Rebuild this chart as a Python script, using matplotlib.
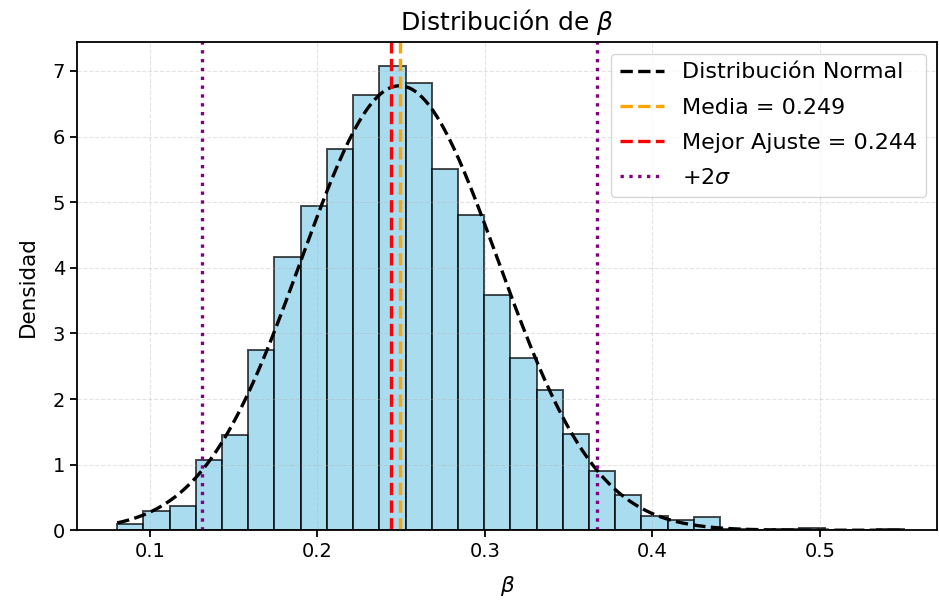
import matplotlib
matplotlib.use("Agg")
import matplotlib.pyplot as plt
import numpy as np

# densidad por bin del histograma (30 bins entre el minimo y el maximo de beta)
beta_min = 0.0804
beta_max = 0.550
densidad = [0.10, 0.29, 0.37, 1.07, 1.45, 2.74, 4.16, 4.94, 5.81, 6.63,
            7.08, 6.81, 5.50, 4.81, 3.58, 2.62, 2.14, 1.46, 0.91, 0.54,
            0.22, 0.15, 0.20, 0.02, 0.00, 0.02, 0.03, 0.00, 0.00, 0.02]

media = 0.249
sigma = 0.0589
mejor_ajuste = 0.244

bordes = np.linspace(beta_min, beta_max, len(densidad) + 1)
ancho = np.diff(bordes)

fig = plt.figure(figsize=(9.39, 6.06), dpi=100)
ax = fig.add_axes([0.082, 0.125, 0.916, 0.805])

ax.bar(bordes[:-1], densidad, width=ancho, align='edge',
       color='skyblue', edgecolor='black', alpha=0.7, linewidth=1.4)

x = np.linspace(beta_min, beta_max, 300)
pdf = np.exp(-0.5 * ((x - media) / sigma) ** 2) / (sigma * np.sqrt(2 * np.pi))
ax.plot(x, pdf, 'k--', linewidth=2.4, label='Distribución Normal')

ax.axvline(media, color='orange', linestyle='--', linewidth=2.4, label=f'Media = {media:.3f}')
ax.axvline(mejor_ajuste, color='red', linestyle='--', linewidth=2.4, label=f'Mejor Ajuste = {mejor_ajuste:.3f}')
ax.axvline(media + 2 * sigma, color='purple', linestyle=':', linewidth=2.4, label=r'+2$\sigma$')
ax.axvline(media - 2 * sigma, color='purple', linestyle=':', linewidth=2.4)

ax.set_xlim(0.0564, 0.570)
ax.set_title(r'Distribución de $\beta$', fontsize=18, pad=9)
ax.set_xlabel(r'$\beta$', fontsize=15.5, labelpad=9)
ax.set_ylabel('Densidad', fontsize=15.5, labelpad=11)
ax.tick_params(labelsize=14, width=1.3, length=5)
for s in ax.spines.values():
    s.set_linewidth(1.3)
ax.legend(loc='upper right', fontsize=16, labelspacing=0.68)
ax.grid(True, linestyle='--', alpha=0.35)

fig.savefig('out.png', dpi=100)
